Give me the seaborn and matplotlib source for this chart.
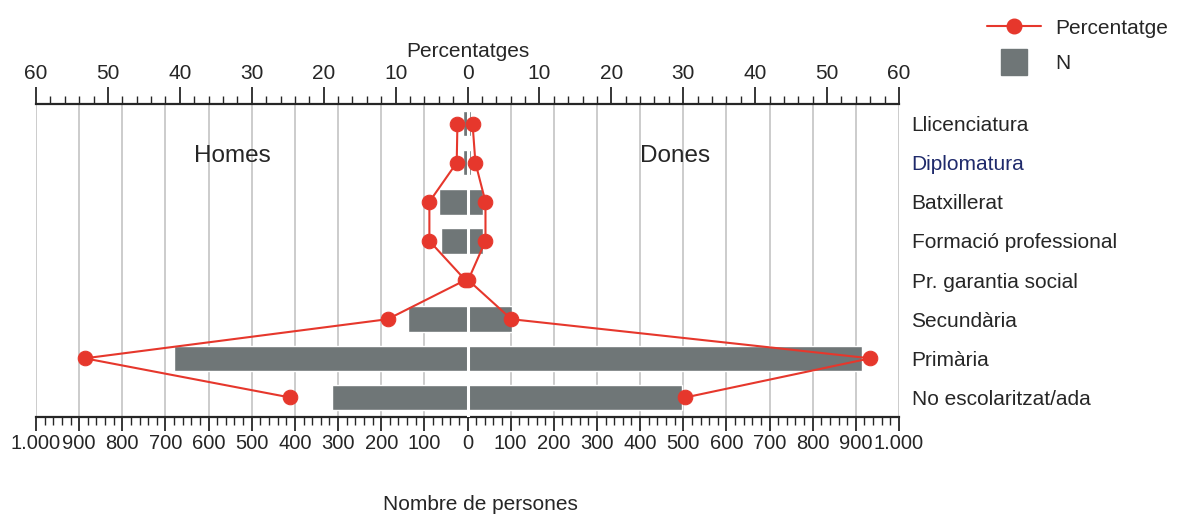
import matplotlib
matplotlib.use("Agg")
from matplotlib import pyplot as plt
from matplotlib.lines import Line2D
import seaborn as sns
import pandas as pd
import numpy as np

nivells = ["Llicenciatura", "Diplomatura", "Batxillerat", "Formació professional",
           "Pr. garantia social", "Secundària", "Primària", "No escolaritzat/ada"]
n_homes = [10, 10, 67, 62, 2, 139, 680, 315]
n_dones = [8, 8, 35, 37, 2, 104, 914, 498]
pct_homes = [1.4, 1.5, 5.3, 5.3, 0.3, 11.1, 53.2, 24.7]
pct_dones = [0.7, 1.1, 2.5, 2.5, 0.1, 6.1, 56.0, 30.3]
n_ticks = list(range(-1000, 1001, 100))
pct_ticks = list(range(-60, 61, 10))

gris = "#6f7677"
vermell = "#e6372c"
fs = 15

sns.set_style("white")
plt.rcParams["font.family"] = ["Liberation Sans", "DejaVu Sans"]

df = pd.DataFrame({
    "nivell": nivells * 2,
    "sexe": ["Homes"] * len(nivells) + ["Dones"] * len(nivells),
    "N": [-v for v in n_homes] + n_dones,
})

fig = plt.figure(figsize=(11.81, 5.18), dpi=100)
ax = fig.add_axes([36 / 1181, 1 - 417 / 518, (899 - 36) / 1181, (417 - 104) / 518])

sns.barplot(data=df, x="N", y="nivell", hue="sexe", dodge=False, orient="h",
            palette={"Homes": gris, "Dones": gris}, width=0.65, legend=False,
            saturation=1, ax=ax, zorder=2)
ax.axvline(0, color="white", lw=2.2, zorder=3)

ax.set_xlim(-1000, 1000)
ax.set_ylim(7.5, -0.5)
ax.set_xticks(n_ticks)
ax.set_xticklabels(["1.000" if abs(t) == 1000 else str(abs(t)) for t in n_ticks], fontsize=14.5)
ax.set_xticks(range(-1000, 1001, 20), minor=True)
ax.tick_params(axis="x", which="major", direction="out", length=10, width=1.3, pad=2)
ax.tick_params(axis="x", which="minor", direction="out", length=6, width=1)
ax.grid(axis="x", which="major", color="#c4c4c4", lw=1.2, zorder=0)
ax.set_axisbelow(True)
ax.set_xlabel("")
ax.set_ylabel("")

ax.yaxis.tick_right()
ax.tick_params(axis="y", length=0, pad=9, labelsize=fs)
for lab in ax.get_yticklabels():
    if lab.get_text() == "Diplomatura":
        lab.set_color("#1f2a6b")

for side in ["left", "right", "top"]:
    ax.spines[side].set_visible(False)
ax.spines["bottom"].set_linewidth(1.6)

ax.text(-544, 0.82, "Homes", ha="center", va="center", fontsize=17.5)
ax.text(481, 0.82, "Dones", ha="center", va="center", fontsize=17.5)

ax2 = ax.twiny()
pos = np.arange(len(nivells))
sns.lineplot(x=[-p for p in pct_homes], y=pos, sort=False, estimator=None, ax=ax2,
             color=vermell, lw=1.5, marker="o", markersize=10.5,
             markeredgecolor=vermell, markerfacecolor=vermell)
sns.lineplot(x=pct_dones, y=pos, sort=False, estimator=None, ax=ax2,
             color=vermell, lw=1.5, marker="o", markersize=10.5,
             markeredgecolor=vermell, markerfacecolor=vermell)
ax2.set_xlim(-60, 60)
ax2.set_ylim(7.5, -0.5)
ax2.set_xticks(pct_ticks)
ax2.set_xticklabels([str(abs(t)) for t in pct_ticks], fontsize=fs)
ax2.set_xticks(range(-60, 61, 2), minor=True)
ax2.tick_params(axis="x", which="major", direction="out", length=12, width=1.3, pad=3)
ax2.tick_params(axis="x", which="minor", direction="out", length=6, width=1)
ax2.set_xlabel("Percentatges", fontsize=fs, labelpad=5)
ax2.set_ylabel("")
for side in ["left", "right", "bottom"]:
    ax2.spines[side].set_visible(False)
ax2.spines["top"].set_linewidth(1.6)

fig.text(480 / 1181, 1 - 505 / 518, "Nombre de persones", ha="center", va="center", fontsize=fs)

handles = [
    Line2D([0], [0], color=vermell, lw=1.5, marker="o", markersize=10.5,
           markerfacecolor=vermell, markeredgecolor=vermell),
    Line2D([0], [0], color=gris, ls="", marker="s", markersize=19),
]
fig.legend(handles, ["Percentatge", "N"], loc="upper left",
           bbox_to_anchor=(968 / 1181, 1.0), frameon=False, fontsize=15,
           handlelength=2.6, labelspacing=0.8, handletextpad=0.7)

fig.savefig("out.png", dpi=100)
